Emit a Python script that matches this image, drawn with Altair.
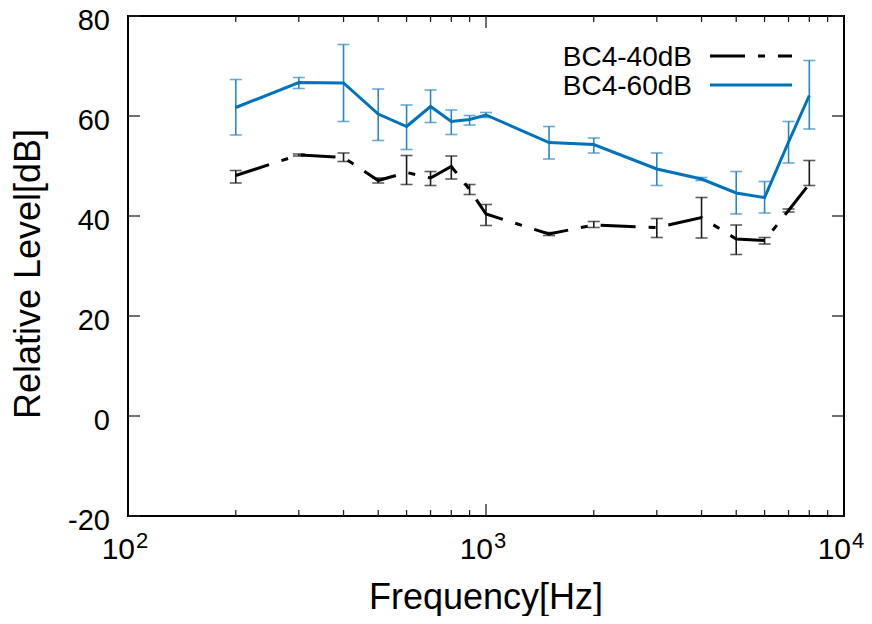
import altair as alt
import pandas as pd

# ---- data ----
freq = [200, 300, 400, 500, 600, 700, 800, 900, 1000, 1500, 2000, 3000, 4000, 5000, 6000, 7000, 8000]

bc60 = [61.7, 66.7, 66.6, 60.4, 57.9, 61.9, 58.9, 59.3, 60.2, 54.7, 54.3, 49.4, 47.4, 44.6, 43.7, 54.8, 64.1]
bc60_lo = [56.2, 65.5, 58.9, 55.1, 53.3, 58.7, 56.3, 58.2, 59.7, 51.4, 52.6, 46.1, 47.1, 40.4, 40.6, 50.6, 57.4]
bc60_hi = [67.3, 67.7, 74.3, 65.4, 62.2, 65.2, 61.2, 60.1, 60.7, 57.9, 55.6, 52.6, 47.7, 48.9, 46.9, 58.9, 71.1]

bc40 = [48.1, 52.2, 51.7, 47.1, 48.7, 47.6, 49.9, 45.3, 40.4, 36.4, 38.2, 37.7, 39.7, 35.4, 35.1, 41.1, 46.4]
bc40_lo = [46.6, 52.0, 50.9, 46.6, 46.3, 46.1, 47.4, 44.3, 38.1, 36.1, 37.7, 35.7, 35.6, 32.3, 34.4, 40.8, 46.1]
bc40_hi = [49.1, 52.4, 52.6, 47.6, 52.1, 48.9, 52.0, 46.3, 42.3, 36.7, 38.9, 39.5, 43.7, 38.2, 35.7, 41.4, 51.1]

series_names = ["BC4-40dB", "BC4-60dB"]
axis_titles = ["Frequency[Hz]", "Relative Level[dB]"]
y_ticks = [-20, 0, 20, 40, 60, 80]
x_decades = [100, 1000, 10000]
x_exponents = ["2", "3", "4"]
x_minor = [200, 300, 400, 500, 600, 700, 800, 900, 2000, 3000, 4000, 5000, 6000, 7000, 8000, 9000]
x_major_inner = [1000]

FONT = "Liberation Sans"
BLUE = "#0072bd"
BLUE_ERR = "#2a86c6"
BLACK = "#000000"
DASH = [35, 13, 7, 13]
W, H = 716, 500

df40 = pd.DataFrame({"freq": freq, "val": bc40, "lo": bc40_lo, "hi": bc40_hi})
df60 = pd.DataFrame({"freq": freq, "val": bc60, "lo": bc60_lo, "hi": bc60_hi})

xs = alt.Scale(type="log", domain=[100, 10000], nice=False)
ys = alt.Scale(domain=[-20, 80], nice=False, zero=False)

X = alt.X("freq:Q", scale=xs, axis=None)


def err_layers(df, color):
    base = alt.Chart(df)
    vert = base.mark_rule(color=color, strokeWidth=1.6).encode(
        x=X, y=alt.Y("lo:Q", scale=ys, axis=None), y2="hi:Q")
    cap_lo = base.mark_tick(color=color, orient="horizontal", size=12, thickness=1.6).encode(
        x=X, y=alt.Y("lo:Q", scale=ys, axis=None))
    cap_hi = base.mark_tick(color=color, orient="horizontal", size=12, thickness=1.6).encode(
        x=X, y=alt.Y("hi:Q", scale=ys, axis=None))
    return [vert, cap_lo, cap_hi]


line60 = alt.Chart(df60).mark_line(color=BLUE, strokeWidth=3).encode(
    x=X, y=alt.Y("val:Q", scale=ys, axis=None))
line40 = alt.Chart(df40).mark_line(color=BLACK, strokeWidth=3, strokeDash=DASH).encode(
    x=X, y=alt.Y("val:Q", scale=ys, axis=None))

# inner ticks (gnuplot style, mirrored)
minor_df = pd.DataFrame({"t": x_minor})
major_df = pd.DataFrame({"t": x_major_inner})
ytick_df = pd.DataFrame({"v": y_ticks, "lab": [str(v) for v in y_ticks]})
tick_color = "#222222"
tick_layers = [
    alt.Chart(minor_df).mark_rule(color=tick_color, strokeWidth=1.3).encode(
        x=alt.X("t:Q", scale=xs, axis=None), y=alt.value(H), y2=alt.value(H - 6)),
    alt.Chart(minor_df).mark_rule(color=tick_color, strokeWidth=1.3).encode(
        x=alt.X("t:Q", scale=xs, axis=None), y=alt.value(0), y2=alt.value(6)),
    alt.Chart(major_df).mark_rule(color=tick_color, strokeWidth=1.3).encode(
        x=alt.X("t:Q", scale=xs, axis=None), y=alt.value(H), y2=alt.value(H - 12)),
    alt.Chart(major_df).mark_rule(color=tick_color, strokeWidth=1.3).encode(
        x=alt.X("t:Q", scale=xs, axis=None), y=alt.value(0), y2=alt.value(12)),
    alt.Chart(ytick_df).mark_rule(color=tick_color, strokeWidth=1.3).encode(
        y=alt.Y("v:Q", scale=ys, axis=None), x=alt.value(0), x2=alt.value(12)),
    alt.Chart(ytick_df).mark_rule(color=tick_color, strokeWidth=1.3).encode(
        y=alt.Y("v:Q", scale=ys, axis=None), x=alt.value(W), x2=alt.value(W - 12)),
]

# y tick labels
ylab = alt.Chart(ytick_df).mark_text(font=FONT, fontSize=29, align="right", baseline="alphabetic",
                                     dy=14, color="black").encode(
    y=alt.Y("v:Q", scale=ys, axis=None), x=alt.value(-18), text="lab:N")

# x tick labels 10^n
dec_df = pd.DataFrame({"t": x_decades, "base": ["10"] * len(x_decades), "exp": x_exponents})
lab_base = alt.Chart(dec_df).mark_text(font=FONT, fontSize=30, align="right", baseline="alphabetic",
                                       dx=7, color="black").encode(
    x=alt.X("t:Q", scale=xs, axis=None), y=alt.value(H + 43), text="base:N")
lab_exp = alt.Chart(dec_df).mark_text(font=FONT, fontSize=22, align="left", baseline="alphabetic",
                                      dx=8, color="black").encode(
    x=alt.X("t:Q", scale=xs, axis=None), y=alt.value(H + 32), text="exp:N")

# axis titles
title_df = pd.DataFrame({"title": axis_titles})
xtitle = alt.Chart(title_df.iloc[[0]]).mark_text(font=FONT, fontSize=36, align="center",
                                                 baseline="alphabetic", color="black").encode(
    x=alt.value(W / 2), y=alt.value(H + 93), text="title:N")
ytitle = alt.Chart(title_df.iloc[[1]]).mark_text(font=FONT, fontSize=36, align="center",
                                                 baseline="alphabetic", angle=270,
                                                 color="black").encode(
    x=alt.value(-88), y=alt.value(258), text="title:N")

# legend (inside, top right, gnuplot style: label then sample)
leg_df = pd.DataFrame({"name": series_names})
leg_t40 = alt.Chart(leg_df.iloc[[0]]).mark_text(font=FONT, fontSize=28, align="right",
                                                baseline="alphabetic", color="black").encode(
    x=alt.value(564), y=alt.value(50), text="name:N")
leg_t60 = alt.Chart(leg_df.iloc[[1]]).mark_text(font=FONT, fontSize=28, align="right",
                                                baseline="alphabetic", color="black").encode(
    x=alt.value(564), y=alt.value(79), text="name:N")
leg_l40 = alt.Chart(leg_df.iloc[[0]]).mark_rule(color=BLACK, strokeWidth=3, strokeDash=DASH).encode(
    x=alt.value(582), x2=alt.value(664), y=alt.value(40))
leg_l60 = alt.Chart(leg_df.iloc[[1]]).mark_rule(color=BLUE, strokeWidth=3).encode(
    x=alt.value(582), x2=alt.value(664), y=alt.value(69))

layers = (tick_layers + err_layers(df40, "#1a1a1a") + err_layers(df60, BLUE_ERR)
          + [line60, line40, ylab, lab_base, lab_exp, xtitle, ytitle,
             leg_t40, leg_t60, leg_l40, leg_l60])

chart = alt.layer(*layers).properties(
    width=W, height=H,
    autosize=alt.AutoSizeParams(type="none"),
    padding={"left": 120, "top": 8, "right": 20, "bottom": 100},
    background="white",
).configure_view(stroke="black", strokeWidth=2)

chart.save("out.html", embed_options={"renderer": "svg", "actions": False})
